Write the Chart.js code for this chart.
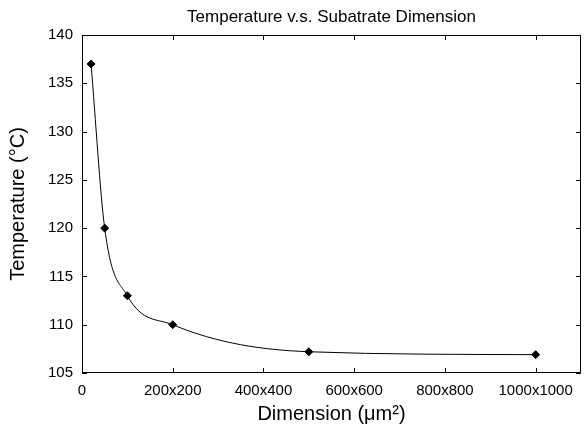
<!DOCTYPE html>
<html>
<head>
<meta charset="utf-8">
<style>
  body { margin: 0; background: #fff; }
</style>
<script src="https://cdn.jsdelivr.net/npm/chart.js@4.4.1/dist/chart.umd.min.js"></script>
</head>
<body>
<canvas id="chart" width="586" height="430"></canvas>
<script>
// substrate side length (um) and measured temperature
const dimensions = [20, 50, 100, 200, 500, 1000];
const temperatures = [137, 120, 113, 110, 107.2, 106.9];
const xTicks = [0, 200, 400, 600, 800, 1000];
const yTicks = [105, 110, 115, 120, 125, 130, 135, 140];

const FONT = "'Liberation Sans', Arial, sans-serif";

// matlab style box with inward ticks
const boxTicks = {
  id: 'boxTicks',
  afterDraw(chart) {
    const { ctx, chartArea: a, scales } = chart;
    const len = 5;
    ctx.save();
    ctx.strokeStyle = '#000';
    ctx.lineWidth = 1;
    ctx.beginPath();
    ctx.rect(a.left + 0.5, a.top + 0.5, a.right - a.left - 1, a.bottom - a.top - 1);
    scales.x.ticks.forEach(t => {
      const px = Math.round(scales.x.getPixelForValue(t.value)) + 0.5;
      ctx.moveTo(px, a.bottom); ctx.lineTo(px, a.bottom - len);
      ctx.moveTo(px, a.top); ctx.lineTo(px, a.top + len);
    });
    scales.y.ticks.forEach(t => {
      const py = Math.round(scales.y.getPixelForValue(t.value)) + 0.5;
      ctx.moveTo(a.left, py); ctx.lineTo(a.left + len, py);
      ctx.moveTo(a.right, py); ctx.lineTo(a.right - len, py);
    });
    ctx.stroke();
    ctx.restore();
  }
};

new Chart(document.getElementById('chart'), {
  type: 'line',
  data: {
    datasets: [{
      data: dimensions.map((d, i) => ({ x: d, y: temperatures[i] })),
      borderColor: '#000',
      backgroundColor: '#000',
      borderWidth: 1,
      pointStyle: 'rectRot',
      pointRadius: 4,
      cubicInterpolationMode: 'monotone'
    }]
  },
  options: {
    responsive: false,
    animation: false,
    layout: { padding: { right: 1, left: 0, top: 0, bottom: 0 } },
    plugins: {
      legend: { display: false },
      tooltip: { enabled: false },
      title: {
        display: true,
        fullSize: false,
        text: 'Temperature v.s. Subatrate Dimension',
        color: '#000',
        font: { family: FONT, size: 17, weight: 'normal', lineHeight: 1.2 },
        padding: { top: 7, bottom: 7.6 }
      }
    },
    scales: {
      x: {
        type: 'linear',
        min: 0,
        max: 1100,
        afterBuildTicks: s => { s.ticks = xTicks.map(v => ({ value: v })); },
        afterFit: s => { s.height = 57; },
        grid: { display: false, drawTicks: false },
        border: { display: false },
        ticks: {
          color: '#000',
          padding: 9,
          maxRotation: 0,
          font: { family: FONT, size: 15 },
          callback: v => v === 0 ? '0' : v + 'x' + v
        },
        title: {
          display: true,
          text: 'Dimension (μm²)',
          color: '#000',
          font: { family: FONT, size: 20 },
          padding: { top: 0, bottom: 4 }
        }
      },
      y: {
        min: 105,
        max: 140,
        afterBuildTicks: s => { s.ticks = yTicks.map(v => ({ value: v })); },
        afterFit: s => { s.width = 82; },
        grid: { display: false, drawTicks: false },
        border: { display: false },
        ticks: {
          color: '#000',
          padding: 9,
          font: { family: FONT, size: 15 }
        },
        title: {
          display: true,
          text: 'Temperature (°C)',
          color: '#000',
          font: { family: FONT, size: 20 },
          padding: { top: 6, bottom: 0 }
        }
      }
    }
  },
  plugins: [boxTicks]
});
</script>
</body>
</html>
